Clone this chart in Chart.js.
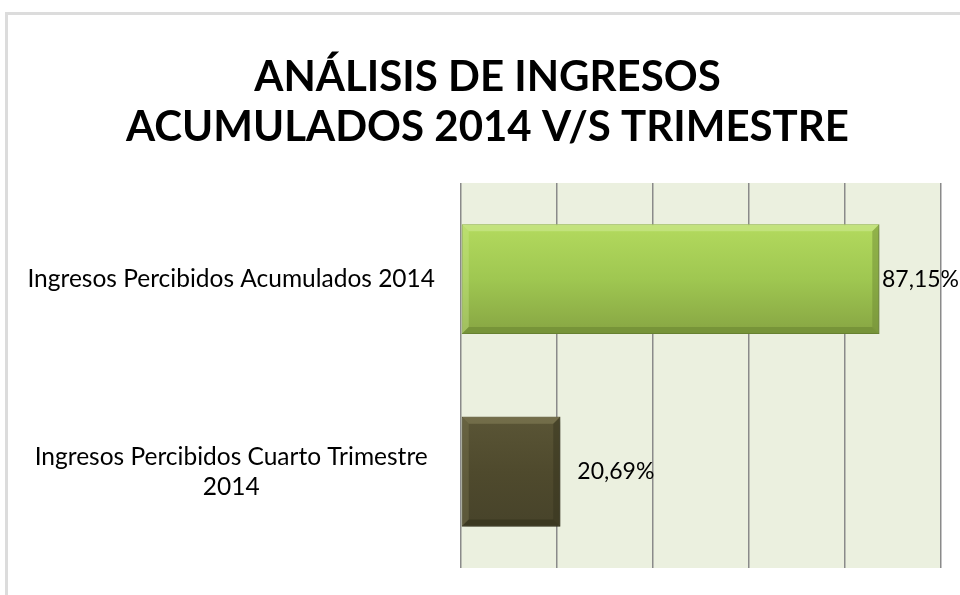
<!DOCTYPE html>
<html><head><meta charset="utf-8">
<script src="https://cdn.jsdelivr.net/npm/chart.js@4.4.1/dist/chart.umd.min.js"></script>
<style>
html,body{margin:0;padding:0;background:#fff;width:960px;height:595px;overflow:hidden;}
#frame{position:absolute;left:5px;top:12px;width:1000px;height:700px;border-left:3px solid #dcdcdc;border-top:3px solid #dcdcdc;}
#wrap{position:absolute;left:0;top:0;width:960px;height:595px;}
</style></head><body>
<div id="frame"></div>
<div id="wrap"><canvas id="c" width="960" height="595"></canvas></div>
<script>
const titleLines = ["ANÁLISIS DE INGRESOS", "ACUMULADOS 2014 V/S TRIMESTRE"];
const categories = [["Ingresos Percibidos Acumulados 2014"], ["Ingresos Percibidos Cuarto Trimestre", "2014"]];
const values = [87.15, 20.69];
const valueLabels = ["87,15%", "20,69%"];
const axisMin = 0, axisMax = 100, axisStep = 20;

const palette = [
  {top:'#b3da5e', mid:'#9fc751', bot:'#87a543', edge:'#6e8b34', light:'#c9e78a', dark:'#6f8c35'},
  {top:'#5a5536', mid:'#4f4a2d', bot:'#47432a', edge:'#37341f', light:'#7d7752', dark:'#36331e'}
];
const barPct = 0.57;

function grad(ctx) {
  const chart = ctx.chart;
  const i = ctx.dataIndex;
  const p = palette[i] || palette[0];
  const y = chart.scales && chart.scales.y;
  if (!y || !chart.chartArea || ctx.type !== 'data') return p.mid;
  const c = y.getPixelForValue(i);
  const half = (y.height / categories.length) * barPct / 2;
  const g = chart.ctx.createLinearGradient(0, c - half, 0, c + half);
  g.addColorStop(0, p.top);
  g.addColorStop(0.5, p.mid);
  g.addColorStop(1, p.bot);
  return g;
}

const deco = {
  id: 'deco',
  afterLayout(chart) {
    // let the category labels use the full left margin (no clipping)
    if (chart.scales.y) chart.scales.y.left = 0;
  },
  beforeDraw(chart) {
    const {ctx, chartArea:a} = chart;
    ctx.save();
    ctx.fillStyle = '#ebf0df';
    ctx.fillRect(a.left, a.top, a.right - a.left, a.bottom - a.top);
    ctx.restore();
  },
  beforeDatasetsDraw(chart) {
    const ctx = chart.ctx;
    ctx.save();
    ctx.shadowColor = 'rgba(0,0,0,0.35)';
    ctx.shadowBlur = 7;
    ctx.shadowOffsetX = 2;
    ctx.shadowOffsetY = 3;
  },
  afterDatasetsDraw(chart) {
    const ctx = chart.ctx;
    ctx.restore();
    const meta = chart.getDatasetMeta(0);
    meta.data.forEach((el, i) => {
      const p = palette[i] || palette[0];
      const {x, y, base, height} = el.getProps(['x','y','base','height'], true);
      const l = Math.min(x, base), r = Math.max(x, base);
      const t = y - height/2, b = y + height/2;
      const bv = 7;
      ctx.save();
      ctx.globalAlpha = 0.7;
      ctx.fillStyle = p.light;
      ctx.beginPath(); ctx.moveTo(l, t); ctx.lineTo(r, t); ctx.lineTo(r-bv, t+bv); ctx.lineTo(l+bv, t+bv); ctx.closePath(); ctx.fill();
      ctx.globalAlpha = 0.4;
      ctx.beginPath(); ctx.moveTo(l, t); ctx.lineTo(l+bv, t+bv); ctx.lineTo(l+bv, b-bv); ctx.lineTo(l, b); ctx.closePath(); ctx.fill();
      ctx.globalAlpha = 0.5;
      ctx.fillStyle = p.dark;
      ctx.beginPath(); ctx.moveTo(r, t); ctx.lineTo(r, b); ctx.lineTo(r-bv, b-bv); ctx.lineTo(r-bv, t+bv); ctx.closePath(); ctx.fill();
      ctx.globalAlpha = 0.7;
      ctx.beginPath(); ctx.moveTo(l, b); ctx.lineTo(r, b); ctx.lineTo(r-bv, b-bv); ctx.lineTo(l+bv, b-bv); ctx.closePath(); ctx.fill();
      ctx.restore();

      ctx.save();
      ctx.font = '23px Lato';
      ctx.fillStyle = '#000';
      ctx.textBaseline = 'middle';
      ctx.textAlign = 'left';
      const txt = valueLabels[i];
      const w = ctx.measureText(txt).width;
      let tx = r + 17;
      if (tx + w > chart.width - 1) tx = chart.width - 1 - w;
      ctx.fillText(txt, tx, y);
      ctx.restore();
    });
  }
};

new Chart(document.getElementById('c'), {
  type: 'bar',
  data: {
    labels: categories,
    datasets: [{
      data: values,
      backgroundColor: grad,
      borderColor: (ctx) => (palette[ctx.dataIndex] || palette[0]).edge,
      borderWidth: 1,
      borderSkipped: false,
      barPercentage: barPct,
      categoryPercentage: 1
    }]
  },
  options: {
    indexAxis: 'y',
    responsive: false,
    animation: false,
    devicePixelRatio: 1,
    layout: {padding: {left: 34, right: 19, bottom: 27, top: 0}},
    plugins: {
      legend: {display: false},
      tooltip: {enabled: false},
      title: {
        display: true,
        text: titleLines,
        color: '#000',
        font: {family: 'Lato', size: 42, weight: 'bold', lineHeight: 1.19},
        padding: {top: 52, bottom: 31}
      }
    },
    scales: {
      x: {
        min: axisMin, max: axisMax,
        ticks: {display: false, stepSize: axisStep},
        grid: {color: '#8a8a8a', lineWidth: 1.5, drawTicks: false},
        border: {display: false}
      },
      y: {
        ticks: {color: '#000', font: {family: 'Lato', size: 24.5, lineHeight: 1.22}, padding: 18, crossAlign: 'center'},
        grid: {display: false},
        border: {display: false},
        afterFit(scale) { scale.width = 427; scale.paddingTop = 0; scale.paddingBottom = 0; }
      }
    }
  },
  plugins: [deco]
});
</script>
</body></html>
